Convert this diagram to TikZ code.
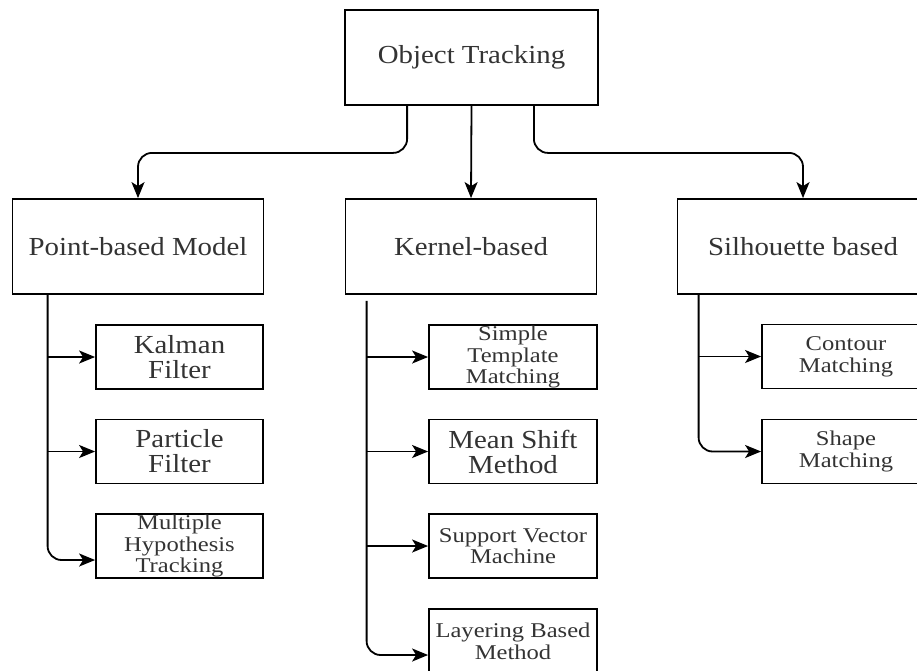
\documentclass[tikz,border=0pt]{standalone}
\usepackage{fontspec}
\usetikzlibrary{arrows.meta}
\newfontfamily\bigserif[FakeStretch=1.11]{Liberation Serif}
\newfontfamily\smallserif[FakeStretch=1.17]{Liberation Serif}
\definecolor{txt}{HTML}{333333}
\tikzset{
  box/.style={draw=black, line width=1.8pt, inner sep=0pt, text=txt, align=center},
  parent/.style={box, minimum width=251pt, minimum height=95pt,
    font=\bigserif\fontsize{26}{25}\selectfont},
  leaf/.style={box, minimum width=167pt, minimum height=64pt,
    font=\bigserif\fontsize{26}{25}\selectfont},
  leafsmall/.style={leaf, font=\smallserif\fontsize{21}{21.7}\selectfont},
  conn/.style={draw=black, line width=1.8pt, rounded corners=14pt,
    -{Stealth[length=16pt, width=13pt, inset=4pt]}},
}
\begin{document}
\begin{tikzpicture}[x=1pt, y=-1pt]
  \useasboundingbox (0,0) rectangle (917,670);
  \clip (0,0) rectangle (917,670);

  % root
  \node[parent, minimum width=253pt] (ot) at (471.5,57.5) {Object Tracking};

  % three families
  \node[parent] (pb) at (138,246.5) {Point-based Model};
  \node[parent] (kb) at (471,246.5) {Kernel-based};
  \node[parent] (sb) at (803,246.5) {Silhouette based};

  % point-based leaves
  \node[leaf] (kal) at (179.5,357) {Kalman\\Filter};
  \node[leaf] (pf)  at (179.5,451.5) {Particle\\Filter};
  \node[leafsmall] (mht) at (179.5,546) {Multiple\\Hypothesis\\Tracking};

  % kernel-based leaves
  \node[leafsmall, minimum width=168pt] (stm) at (513,357) {Simple\\Template\\Matching};
  \node[leaf, minimum width=168pt] (msm) at (513,451.5) {Mean Shift\\Method};
  \node[leafsmall, minimum width=168pt] (svm) at (513,546) {Support Vector\\Machine};
  \node[leafsmall, minimum width=168pt] (lbm) at (513,641) {Layering Based\\Method};

  % silhouette leaves
  \node[leafsmall, minimum width=168pt] (cm) at (846,356.5) {Contour\\Matching};
  \node[leafsmall, minimum width=168pt] (sm) at (846,451.5) {Shape\\Matching};

  % root to families
  \draw[conn] ([xshift=63pt]ot.south west) -- ++(0,47) -| (pb.north);
  \draw[conn] (ot.south) -- (kb.north);
  \draw[conn] ([xshift=-65pt]ot.south east) -- ++(0,47) -| (sb.north);

  % trunks
  \coordinate (pbt) at ([xshift=36pt]pb.south west);
  \coordinate (kbt) at ([xshift=22pt, yshift=-6pt]kb.south west);
  \coordinate (sbt) at ([xshift=22pt]sb.south west);

  \draw[conn] (pbt) |- ([yshift=-14pt]mht.west);
  \draw[conn] (kal.west -| pbt) -- (kal.west);
  \draw[conn] (pf.west -| pbt) -- (pf.west);

  \draw[conn] (kbt) |- ([yshift=-14pt]lbm.west);
  \draw[conn] (stm.west -| kbt) -- (stm.west);
  \draw[conn] (msm.west -| kbt) -- (msm.west);
  \draw[conn] (svm.west -| kbt) -- (svm.west);

  \draw[conn] (sbt) |- (sm.west);
  \draw[conn] (cm.west -| sbt) -- (cm.west);
\end{tikzpicture}
\end{document}
